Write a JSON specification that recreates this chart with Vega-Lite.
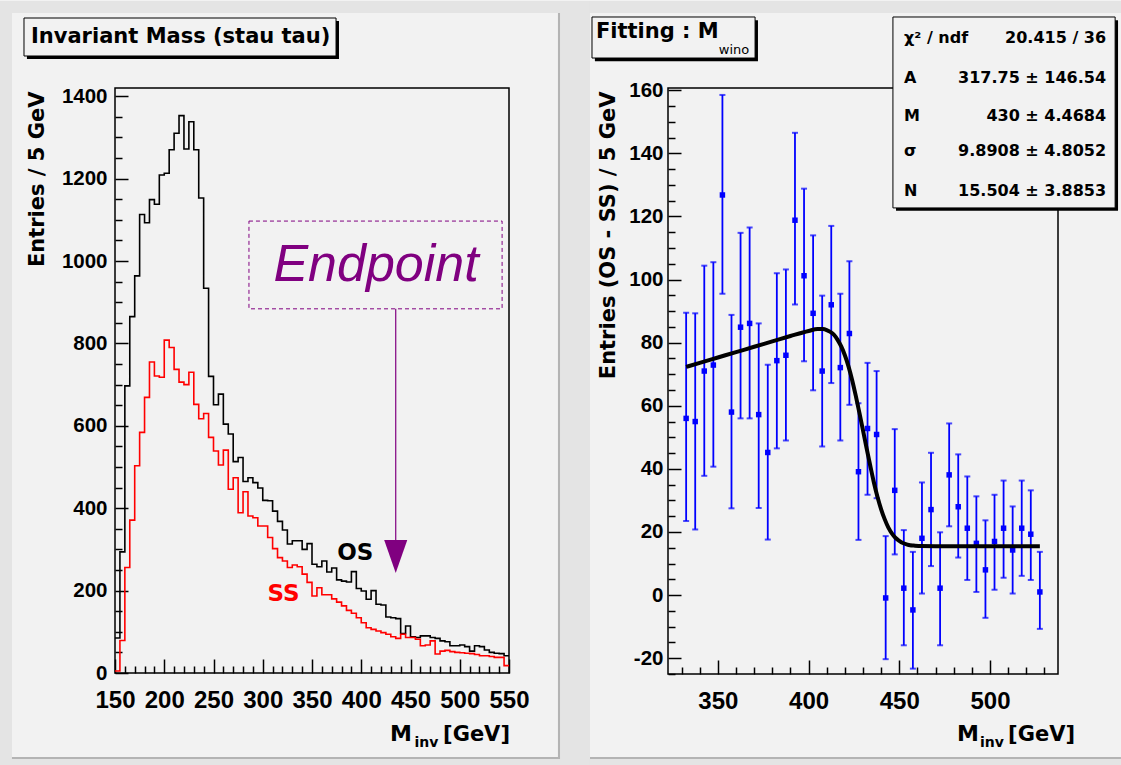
{
  "$schema": "https://vega.github.io/schema/vega-lite/v6.json",
  "background": "#f2f2f2",
  "padding": 0,
  "spacing": 0,
  "config": {"view": {"stroke": null}, "font": "Liberation Sans"},
  "datasets": {
    "hist": [
      {"m":150,"os":85,"ss":5},{"m":155,"os":294,"ss":79},{"m":160,"os":697,"ss":256},{"m":165,"os":865,"ss":371},{"m":170,"os":964,"ss":503},
      {"m":175,"os":1113,"ss":584},{"m":180,"os":1093,"ss":669},{"m":185,"os":1149,"ss":755},{"m":190,"os":1138,"ss":721},{"m":195,"os":1209,"ss":718},
      {"m":200,"os":1213,"ss":808},{"m":205,"os":1270,"ss":790},{"m":210,"os":1310,"ss":737},{"m":215,"os":1353,"ss":706},{"m":220,"os":1272,"ss":700},
      {"m":225,"os":1338,"ss":730},{"m":230,"os":1270,"ss":652},{"m":235,"os":1153,"ss":617},{"m":240,"os":934,"ss":630},{"m":245,"os":720,"ss":572},
      {"m":250,"os":651,"ss":539},{"m":255,"os":677,"ss":505},{"m":260,"os":604,"ss":541},{"m":265,"os":580,"ss":446},{"m":270,"os":513,"ss":474},
      {"m":275,"os":523,"ss":389},{"m":280,"os":465,"ss":440},{"m":285,"os":474,"ss":381},{"m":290,"os":462,"ss":377},{"m":295,"os":449,"ss":357},
      {"m":300,"os":419,"ss":357},{"m":305,"os":418,"ss":329},{"m":310,"os":393,"ss":302},{"m":315,"os":368,"ss":280},{"m":320,"os":347,"ss":272},
      {"m":325,"os":313,"ss":256},{"m":330,"os":321,"ss":262},{"m":335,"os":321,"ss":258},{"m":340,"os":300,"ss":240},{"m":345,"os":314,"ss":220},
      {"m":350,"os":264,"ss":187},{"m":355,"os":258,"ss":207},{"m":360,"os":272,"ss":190},{"m":365,"os":245,"ss":190},{"m":370,"os":255,"ss":180},
      {"m":375,"os":226,"ss":172},{"m":380,"os":223,"ss":163},{"m":385,"os":221,"ss":152},{"m":390,"os":246,"ss":145},{"m":395,"os":205,"ss":134},
      {"m":400,"os":199,"ss":122},{"m":405,"os":179,"ss":110},{"m":410,"os":200,"ss":106},{"m":415,"os":167,"ss":102},{"m":420,"os":165,"ss":98},
      {"m":425,"os":136,"ss":94},{"m":430,"os":134,"ss":88},{"m":435,"os":132,"ss":84},{"m":440,"os":96,"ss":94},{"m":445,"os":114,"ss":86},
      {"m":450,"os":88,"ss":86},{"m":455,"os":86,"ss":82},{"m":460,"os":90,"ss":66},{"m":465,"os":90,"ss":68},{"m":470,"os":86,"ss":78},
      {"m":475,"os":84,"ss":46},{"m":480,"os":78,"ss":53},{"m":485,"os":76,"ss":55},{"m":490,"os":66,"ss":52},{"m":495,"os":66,"ss":50},
      {"m":500,"os":68,"ss":49},{"m":505,"os":64,"ss":48},{"m":510,"os":53,"ss":47},{"m":515,"os":66,"ss":45},{"m":520,"os":64,"ss":42},
      {"m":525,"os":56,"ss":42},{"m":530,"os":50,"ss":40},{"m":535,"os":48,"ss":38},{"m":540,"os":47,"ss":38},{"m":545,"os":42,"ss":18},
      {"m":550,"os":42,"ss":18}
    ],
    "diff": [
      {"m":332.5,"y":56,"lo":23.5,"hi":89.5},{"m":337.5,"y":55,"lo":20.8,"hi":89.3},{"m":342.5,"y":71,"lo":37.8,"hi":104.4},
      {"m":347.5,"y":72.9,"lo":40.7,"hi":105.5},{"m":352.5,"y":126.8,"lo":95.5,"hi":158.5},{"m":357.5,"y":58,"lo":27.5,"hi":88.8},
      {"m":362.5,"y":84.9,"lo":56,"hi":114.8},{"m":367.5,"y":86.1,"lo":56,"hi":116.5},{"m":372.5,"y":57.2,"lo":27.6,"hi":86.1},
      {"m":377.5,"y":45.2,"lo":17.6,"hi":73},{"m":382.5,"y":74.3,"lo":46.5,"hi":102},{"m":387.5,"y":76,"lo":49,"hi":103.2},
      {"m":392.5,"y":118.8,"lo":92.1,"hi":146.5},{"m":397.5,"y":101.2,"lo":74.1,"hi":128.8},{"m":402.5,"y":89.3,"lo":64.9,"hi":114},
      {"m":407.5,"y":71,"lo":47.1,"hi":94.9},{"m":412.5,"y":92,"lo":67.2,"hi":117},{"m":417.5,"y":72.1,"lo":49,"hi":95.5},
      {"m":422.5,"y":82.9,"lo":60.3,"hi":105.8},{"m":427.5,"y":39.1,"lo":17.5,"hi":60.8},{"m":432.5,"y":52.8,"lo":31.8,"hi":73.6},
      {"m":437.5,"y":50.9,"lo":30.7,"hi":71},{"m":442.5,"y":-0.9,"lo":-20.3,"hi":18.7},{"m":447.5,"y":33.2,"lo":12.9,"hi":52.6},
      {"m":452.5,"y":2.2,"lo":-15.9,"hi":20.6},{"m":457.5,"y":-4.7,"lo":-23.3,"hi":13.7},{"m":462.5,"y":18,"lo":0.5,"hi":35.7},
      {"m":467.5,"y":27.1,"lo":9.2,"hi":45.1},{"m":472.5,"y":2.2,"lo":-15.9,"hi":19.9},{"m":477.5,"y":38.1,"lo":21.8,"hi":54.4},
      {"m":482.5,"y":28,"lo":11.9,"hi":44.6},{"m":487.5,"y":21.2,"lo":4.8,"hi":37.6},{"m":492.5,"y":16.4,"lo":1,"hi":31.3},
      {"m":497.5,"y":8,"lo":-7.2,"hi":23.7},{"m":502.5,"y":17,"lo":1.7,"hi":31.8},{"m":507.5,"y":21.2,"lo":5.5,"hi":36.3},
      {"m":512.5,"y":14.3,"lo":0.5,"hi":28.1},{"m":517.5,"y":21.2,"lo":6.1,"hi":36.3},{"m":522.5,"y":19.3,"lo":4.8,"hi":33.2},
      {"m":527.5,"y":1,"lo":-10.7,"hi":13.7}
    ],
    "fit": [
      {"m":332.5,"f":72.3},{"m":340,"f":73.6},{"m":350,"f":75.3},{"m":360,"f":77.0},{"m":370,"f":78.7},{"m":380,"f":80.4},
      {"m":390,"f":82.1},{"m":400,"f":83.7},{"m":405,"f":84.3},{"m":408,"f":84.3},{"m":410,"f":84.0},{"m":412,"f":83.4},
      {"m":414,"f":82.5},{"m":416,"f":80.9},{"m":418,"f":78.8},{"m":420,"f":76.0},{"m":422,"f":72.5},{"m":424,"f":68.2},
      {"m":426,"f":63.2},{"m":428,"f":57.8},{"m":430,"f":52.2},{"m":432,"f":46.5},{"m":434,"f":41.0},{"m":436,"f":35.7},
      {"m":438,"f":31.1},{"m":440,"f":27.2},{"m":442,"f":24.0},{"m":444,"f":21.4},{"m":446,"f":19.5},{"m":448,"f":18.1},
      {"m":450,"f":17.2},{"m":452,"f":16.5},{"m":454,"f":16.1},{"m":456,"f":15.8},{"m":458,"f":15.7},{"m":462,"f":15.55},
      {"m":470,"f":15.5},{"m":527.5,"f":15.5}
    ]
  },
  "hconcat": [
    {
      "width": 394,
      "height": 585,
      "resolve": {"axis": {"x": "independent", "y": "independent"}},
      "layer": [
        {
          "data": {"values": [
            {"x1": 33.25, "x2": 45.4, "y1": 1631.2, "y2": -225.8},
            {"x1": 33.25, "x2": 632.2, "y1": 1631.2, "y2": 1602.1},
            {"x1": 601.8, "x2": 632.2, "y1": 1631.2, "y2": -225.8},
            {"x1": 33.25, "x2": 632.2, "y1": -208.8, "y2": -225.8}
          ]},
          "mark": {"type": "rect", "fill": "#e4e4e4", "stroke": null},
          "encoding": {
            "x": {"field": "x1", "type": "quantitative", "scale": {"domain": [150, 550]}, "axis": null},
            "x2": {"field": "x2"},
            "y": {"field": "y1", "type": "quantitative", "scale": {"domain": [0, 1420]}, "axis": null},
            "y2": {"field": "y2"}
          }
        },
        {
          "data": {"values": [
            {"x1": 599.7, "x2": 601.8, "y1": 1602.1, "y2": -208.8},
            {"x1": 45.4, "x2": 601.8, "y1": -203.9, "y2": -208.8}
          ]},
          "mark": {"type": "rect", "fill": "#b4b4b4", "stroke": null},
          "encoding": {
            "x": {"field": "x1", "type": "quantitative", "scale": {"domain": [150, 550]}, "axis": null},
            "x2": {"field": "x2"},
            "y": {"field": "y1", "type": "quantitative", "scale": {"domain": [0, 1420]}, "axis": null},
            "y2": {"field": "y2"}
          }
        },
        {
          "data": {"values": [{"x1": 150, "x2": 550, "y1": 0, "y2": 1420}]},
          "mark": {"type": "rect", "fill": null, "stroke": "black", "strokeWidth": 1.5},
          "encoding": {
            "x": {"field": "x1", "type": "quantitative", "scale": {"domain": [150, 550]}, "axis": null},
            "x2": {"field": "x2"},
            "y": {"field": "y1", "type": "quantitative", "scale": {"domain": [0, 1420]}, "axis": null},
            "y2": {"field": "y2"}
          }
        },
        {
          "data": {"name": "hist"},
          "mark": {"type": "line", "interpolate": "step-after", "color": "black", "strokeWidth": 1.6},
          "encoding": {
            "x": {
              "field": "m", "type": "quantitative", "scale": {"domain": [150, 550]},
              "axis": {
                "orient": "bottom",
                "values": [150,200,250,300,350,400,450,500,550],
                "format": "d",
                "tickSize": -14,
                "labelPadding": 29, "tickColor": "black", "tickWidth": 1.5, "domain": false, "grid": false,
                "labelFont": "Liberation Sans", "labelFontWeight": "bold", "labelFontSize": 24, "labelColor": "black",
                "labelFlush": false, "labelOverlap": false, "title": null
              }
            },
            "y": {
              "field": "os", "type": "quantitative", "scale": {"domain": [0, 1420]},
              "axis": {
                "orient": "left",
                "values": [0,200,400,600,800,1000,1200,1400],
                "format": "d",
                "tickSize": -13,
                "labelPadding": 21, "tickColor": "black", "tickWidth": 1.5, "domain": false, "grid": false,
                "labelFont": "Liberation Sans", "labelFontWeight": "bold", "labelFontSize": 20.5, "labelColor": "black",
                "labelFlush": false, "labelOverlap": false,
                "title": "Entries / 5 GeV", "titleFont": "DejaVu Sans", "titleFontSize": 21, "titleFontWeight": "bold",
                "titleColor": "black", "titleAngle": 270, "titleAlign": "right", "titleBaseline": "middle",
                "titleX": -78, "titleY": 3
              }
            }
          }
        },
        {
          "data": {"name": "hist"},
          "mark": {"type": "line", "interpolate": "step-after", "color": "#ff0000", "strokeWidth": 1.6},
          "encoding": {
            "x": {
              "field": "m", "type": "quantitative", "scale": {"domain": [150, 550]},
              "axis": {
                "orient": "bottom",
                "values": [160,170,180,190,210,220,230,240,260,270,280,290,310,320,330,340,360,370,380,390,410,420,430,440,460,470,480,490,510,520,530,540],
                "tickSize": -7, "labels": false, "tickColor": "black", "tickWidth": 1.5, "domain": false, "grid": false, "title": null
              }
            },
            "y": {
              "field": "ss", "type": "quantitative", "scale": {"domain": [0, 1420]},
              "axis": {
                "orient": "left",
                "values": [50,100,150,250,300,350,450,500,550,650,700,750,850,900,950,1050,1100,1150,1250,1300,1350],
                "tickSize": -7, "labels": false, "tickColor": "black", "tickWidth": 1.5, "domain": false, "grid": false, "title": null
              }
            }
          }
        },
        {
          "data": {"values": [{"x1": 286, "x2": 543, "y1": 1097, "y2": 884}]},
          "mark": {"type": "rect", "fill": null, "stroke": "#800080", "strokeWidth": 1, "strokeDash": [4, 3]},
          "encoding": {
            "x": {"field": "x1", "type": "quantitative", "scale": {"domain": [150, 550]}, "axis": null},
            "x2": {"field": "x2"},
            "y": {"field": "y1", "type": "quantitative", "scale": {"domain": [0, 1420]}, "axis": null},
            "y2": {"field": "y2"}
          }
        },
        {
          "data": {"values": [{"x": 415, "y": 990, "t": "Endpoint"}]},
          "mark": {"type": "text", "align": "center", "baseline": "middle", "font": "Liberation Sans", "fontStyle": "italic", "fontSize": 52, "color": "#800080"},
          "encoding": {
            "x": {"field": "x", "type": "quantitative", "scale": {"domain": [150, 550]}, "axis": null},
            "y": {"field": "y", "type": "quantitative", "scale": {"domain": [0, 1420]}, "axis": null},
            "text": {"field": "t"}
          }
        },
        {
          "data": {"values": [{"x": 435, "y1": 884, "y2": 322}]},
          "mark": {"type": "rule", "color": "#800080", "strokeWidth": 1.2},
          "encoding": {
            "x": {"field": "x", "type": "quantitative", "scale": {"domain": [150, 550]}, "axis": null},
            "y": {"field": "y1", "type": "quantitative", "scale": {"domain": [0, 1420]}, "axis": null},
            "y2": {"field": "y2"}
          }
        },
        {
          "data": {"values": [{"x": 435, "y": 283}]},
          "mark": {"type": "point", "shape": "M-0.7,-1L0.7,-1L0,1Z", "filled": true, "size": 1089, "color": "#800080", "opacity": 1},
          "encoding": {
            "x": {"field": "x", "type": "quantitative", "scale": {"domain": [150, 550]}, "axis": null},
            "y": {"field": "y", "type": "quantitative", "scale": {"domain": [0, 1420]}, "axis": null}
          }
        },
        {
          "data": {"values": [{"x": 394, "y": 292, "t": "OS"}, {"x": 321, "y": 192, "t": "SS"}]},
          "mark": {"type": "text", "align": "center", "baseline": "middle", "font": "DejaVu Sans", "fontWeight": "bold", "fontSize": 23},
          "encoding": {
            "x": {"field": "x", "type": "quantitative", "scale": {"domain": [150, 550]}, "axis": null},
            "y": {"field": "y", "type": "quantitative", "scale": {"domain": [0, 1420]}, "axis": null},
            "text": {"field": "t"},
            "color": {"field": "t", "type": "nominal", "scale": {"domain": ["OS", "SS"], "range": ["black", "#ff0000"]}, "legend": null}
          }
        },
        {
          "data": {"values": [{"x1": 60.6, "x2": 377.4, "y1": 1582.6, "y2": 1490.4}]},
          "mark": {"type": "rect", "fill": "black", "stroke": null},
          "encoding": {
            "x": {"field": "x1", "type": "quantitative", "scale": {"domain": [150, 550]}, "axis": null},
            "x2": {"field": "x2"},
            "y": {"field": "y1", "type": "quantitative", "scale": {"domain": [0, 1420]}, "axis": null},
            "y2": {"field": "y2"}
          }
        },
        {
          "data": {"values": [{"x1": 57.6, "x2": 374.4, "y1": 1589.9, "y2": 1497.7}]},
          "mark": {"type": "rect", "fill": "#f2f2f2", "stroke": "black", "strokeWidth": 1},
          "encoding": {
            "x": {"field": "x1", "type": "quantitative", "scale": {"domain": [150, 550]}, "axis": null},
            "x2": {"field": "x2"},
            "y": {"field": "y1", "type": "quantitative", "scale": {"domain": [0, 1420]}, "axis": null},
            "y2": {"field": "y2"}
          }
        },
        {
          "data": {"values": [{"x": 64.7, "y": 1543.8, "t": "Invariant Mass (stau tau)"}]},
          "mark": {"type": "text", "align": "left", "baseline": "middle", "font": "DejaVu Sans", "fontWeight": "bold", "fontSize": 21, "color": "black"},
          "encoding": {
            "x": {"field": "x", "type": "quantitative", "scale": {"domain": [150, 550]}, "axis": null},
            "y": {"field": "y", "type": "quantitative", "scale": {"domain": [0, 1420]}, "axis": null},
            "text": {"field": "t"}
          }
        },
        {
          "data": {"values": [{"x": 429.2, "y": -165, "t": "M"}]},
          "mark": {"type": "text", "align": "left", "baseline": "alphabetic", "font": "DejaVu Sans", "fontWeight": "bold", "fontSize": 22, "color": "black"},
          "encoding": {
            "x": {"field": "x", "type": "quantitative", "scale": {"domain": [150, 550]}, "axis": null},
            "y": {"field": "y", "type": "quantitative", "scale": {"domain": [0, 1420]}, "axis": null},
            "text": {"field": "t"}
          }
        },
        {
          "data": {"values": [{"x": 551, "y": -165, "t": "[GeV]"}]},
          "mark": {"type": "text", "align": "right", "baseline": "alphabetic", "font": "DejaVu Sans", "fontWeight": "bold", "fontSize": 21, "color": "black"},
          "encoding": {
            "x": {"field": "x", "type": "quantitative", "scale": {"domain": [150, 550]}, "axis": null},
            "y": {"field": "y", "type": "quantitative", "scale": {"domain": [0, 1420]}, "axis": null},
            "text": {"field": "t"}
          }
        },
        {
          "data": {"values": [{"x": 454, "y": -180, "t": "inv"}]},
          "mark": {"type": "text", "align": "left", "baseline": "alphabetic", "font": "DejaVu Sans", "fontWeight": "bold", "fontSize": 14, "color": "black"},
          "encoding": {
            "x": {"field": "x", "type": "quantitative", "scale": {"domain": [150, 550]}, "axis": null},
            "y": {"field": "y", "type": "quantitative", "scale": {"domain": [0, 1420]}, "axis": null},
            "text": {"field": "t"}
          }
        }
      ]
    },
    {
      "width": 390,
      "height": 586,
      "resolve": {"axis": {"x": "independent", "y": "independent"}},
      "layer": [
        {
          "data": {"values": [
            {"x1": 279.5, "x2": 572.2, "y1": 188.3, "y2": 184.5},
            {"x1": 279.5, "x2": 572.2, "y1": -51.9, "y2": -54.2}
          ]},
          "mark": {"type": "rect", "fill": "#e4e4e4", "stroke": null},
          "encoding": {
            "x": {"field": "x1", "type": "quantitative", "scale": {"domain": [322.5, 537.5]}, "axis": null},
            "x2": {"field": "x2"},
            "y": {"field": "y1", "type": "quantitative", "scale": {"domain": [-25, 160.7]}, "axis": null},
            "y2": {"field": "y2"}
          }
        },
        {
          "data": {"values": [{"x1": 279.5, "x2": 572.2, "y1": -51.3, "y2": -51.9}]},
          "mark": {"type": "rect", "fill": "#b4b4b4", "stroke": null},
          "encoding": {
            "x": {"field": "x1", "type": "quantitative", "scale": {"domain": [322.5, 537.5]}, "axis": null},
            "x2": {"field": "x2"},
            "y": {"field": "y1", "type": "quantitative", "scale": {"domain": [-25, 160.7]}, "axis": null},
            "y2": {"field": "y2"}
          }
        },
        {
          "data": {"values": [{"x1": 322.5, "x2": 537.5, "y1": -25, "y2": 160.7}]},
          "mark": {"type": "rect", "fill": null, "stroke": "black", "strokeWidth": 1.5},
          "encoding": {
            "x": {"field": "x1", "type": "quantitative", "scale": {"domain": [322.5, 537.5]}, "axis": null},
            "x2": {"field": "x2"},
            "y": {"field": "y1", "type": "quantitative", "scale": {"domain": [-25, 160.7]}, "axis": null},
            "y2": {"field": "y2"}
          }
        },
        {
          "data": {"name": "diff"},
          "mark": {"type": "rule", "color": "#0000ff", "strokeWidth": 1.8},
          "encoding": {
            "x": {
              "field": "m", "type": "quantitative", "scale": {"domain": [322.5, 537.5]},
              "axis": {
                "orient": "bottom",
                "values": [350,400,450,500],
                "format": "d",
                "tickSize": -14,
                "labelPadding": 29, "tickColor": "black", "tickWidth": 1.5, "domain": false, "grid": false,
                "labelFont": "Liberation Sans", "labelFontWeight": "bold", "labelFontSize": 24, "labelColor": "black",
                "labelFlush": false, "labelOverlap": false, "title": null
              }
            },
            "y": {
              "field": "lo", "type": "quantitative", "scale": {"domain": [-25, 160.7]},
              "axis": {
                "orient": "left",
                "values": [-20,0,20,40,60,80,100,120,140,160],
                "labelExpr": "'' + datum.value",
                "tickSize": -13,
                "labelPadding": 18, "tickColor": "black", "tickWidth": 1.5, "domain": false, "grid": false,
                "labelFont": "Liberation Sans", "labelFontWeight": "bold", "labelFontSize": 20.5, "labelColor": "black",
                "labelFlush": false, "labelOverlap": false,
                "title": "Entries (OS - SS) / 5 GeV", "titleFont": "DejaVu Sans", "titleFontSize": 21, "titleFontWeight": "bold",
                "titleColor": "black", "titleAngle": 270, "titleAlign": "right", "titleBaseline": "middle",
                "titleX": -60, "titleY": 3
              }
            },
            "y2": {"field": "hi"}
          }
        },
        {
          "data": {"name": "diff"},
          "mark": {"type": "tick", "orient": "horizontal", "color": "#0000ff", "size": 6, "thickness": 2},
          "encoding": {
            "x": {
              "field": "m", "type": "quantitative", "scale": {"domain": [322.5, 537.5]},
              "axis": {
                "orient": "bottom",
                "values": [330,340,360,370,380,390,410,420,430,440,460,470,480,490,510,520,530],
                "tickSize": -7, "labels": false, "tickColor": "black", "tickWidth": 1.5, "domain": false, "grid": false, "title": null
              }
            },
            "y": {
              "field": "lo", "type": "quantitative", "scale": {"domain": [-25, 160.7]},
              "axis": {
                "orient": "left",
                "values": [-25,-15,-10,-5,5,10,15,25,30,35,45,50,55,65,70,75,85,90,95,105,110,115,125,130,135,145,150,155],
                "tickSize": -7, "labels": false, "tickColor": "black", "tickWidth": 1.5, "domain": false, "grid": false, "title": null
              }
            }
          }
        },
        {
          "data": {"name": "diff"},
          "mark": {"type": "tick", "orient": "horizontal", "color": "#0000ff", "size": 6, "thickness": 2},
          "encoding": {
            "x": {"field": "m", "type": "quantitative", "scale": {"domain": [322.5, 537.5]}, "axis": null},
            "y": {"field": "hi", "type": "quantitative", "scale": {"domain": [-25, 160.7]}, "axis": null}
          }
        },
        {
          "data": {"name": "diff"},
          "mark": {"type": "square", "color": "#0000ff", "size": 30, "opacity": 1},
          "encoding": {
            "x": {"field": "m", "type": "quantitative", "scale": {"domain": [322.5, 537.5]}, "axis": null},
            "y": {"field": "y", "type": "quantitative", "scale": {"domain": [-25, 160.7]}, "axis": null}
          }
        },
        {
          "data": {"name": "fit"},
          "mark": {"type": "line", "color": "black", "strokeWidth": 4, "interpolate": "monotone"},
          "encoding": {
            "x": {"field": "m", "type": "quantitative", "scale": {"domain": [322.5, 537.5]}, "axis": null},
            "y": {"field": "f", "type": "quantitative", "scale": {"domain": [-25, 160.7]}, "axis": null}
          }
        },
        {
          "data": {"values": [{"x1": 448.2, "x2": 570.6, "y1": 182.2, "y2": 121.8}]},
          "mark": {"type": "rect", "fill": "black", "stroke": null},
          "encoding": {
            "x": {"field": "x1", "type": "quantitative", "scale": {"domain": [322.5, 537.5]}, "axis": null},
            "x2": {"field": "x2"},
            "y": {"field": "y1", "type": "quantitative", "scale": {"domain": [-25, 160.7]}, "axis": null},
            "y2": {"field": "y2"}
          }
        },
        {
          "data": {"values": [{"x1": 446.5, "x2": 569, "y1": 183.2, "y2": 122.7}]},
          "mark": {"type": "rect", "fill": "#f2f2f2", "stroke": "black", "strokeWidth": 1},
          "encoding": {
            "x": {"field": "x1", "type": "quantitative", "scale": {"domain": [322.5, 537.5]}, "axis": null},
            "x2": {"field": "x2"},
            "y": {"field": "y1", "type": "quantitative", "scale": {"domain": [-25, 160.7]}, "axis": null},
            "y2": {"field": "y2"}
          }
        },
        {
          "data": {"values": [
            {"x": 452.6, "y": 176.5, "t": "χ² / ndf"},
            {"x": 452.6, "y": 163.9, "t": "A"},
            {"x": 452.6, "y": 151.8, "t": "M"},
            {"x": 452.6, "y": 140.7, "t": "σ"},
            {"x": 452.6, "y": 128.1, "t": "N"}
          ]},
          "mark": {"type": "text", "align": "left", "baseline": "middle", "font": "DejaVu Sans", "fontWeight": "bold", "fontSize": 16, "color": "black"},
          "encoding": {
            "x": {"field": "x", "type": "quantitative", "scale": {"domain": [322.5, 537.5]}, "axis": null},
            "y": {"field": "y", "type": "quantitative", "scale": {"domain": [-25, 160.7]}, "axis": null},
            "text": {"field": "t"}
          }
        },
        {
          "data": {"values": [
            {"x": 564, "y": 176.5, "t": "20.415 / 36"},
            {"x": 564, "y": 163.9, "t": "317.75 ± 146.54"},
            {"x": 564, "y": 151.8, "t": "430 ± 4.4684"},
            {"x": 564, "y": 140.7, "t": "9.8908 ± 4.8052"},
            {"x": 564, "y": 128.1, "t": "15.504 ± 3.8853"}
          ]},
          "mark": {"type": "text", "align": "right", "baseline": "middle", "font": "DejaVu Sans", "fontWeight": "bold", "fontSize": 16, "color": "black"},
          "encoding": {
            "x": {"field": "x", "type": "quantitative", "scale": {"domain": [322.5, 537.5]}, "axis": null},
            "y": {"field": "y", "type": "quantitative", "scale": {"domain": [-25, 160.7]}, "axis": null},
            "text": {"field": "t"}
          }
        },
        {
          "data": {"values": [{"x1": 282.2, "x2": 372.1, "y1": 182.2, "y2": 169.2}]},
          "mark": {"type": "rect", "fill": "black", "stroke": null},
          "encoding": {
            "x": {"field": "x1", "type": "quantitative", "scale": {"domain": [322.5, 537.5]}, "axis": null},
            "x2": {"field": "x2"},
            "y": {"field": "y1", "type": "quantitative", "scale": {"domain": [-25, 160.7]}, "axis": null},
            "y2": {"field": "y2"}
          }
        },
        {
          "data": {"values": [{"x1": 280.6, "x2": 370.5, "y1": 183.2, "y2": 170.2}]},
          "mark": {"type": "rect", "fill": "#f2f2f2", "stroke": "black", "strokeWidth": 1},
          "encoding": {
            "x": {"field": "x1", "type": "quantitative", "scale": {"domain": [322.5, 537.5]}, "axis": null},
            "x2": {"field": "x2"},
            "y": {"field": "y1", "type": "quantitative", "scale": {"domain": [-25, 160.7]}, "axis": null},
            "y2": {"field": "y2"}
          }
        },
        {
          "data": {"values": [{"x": 282.8, "y": 178.3, "t": "Fitting : M"}]},
          "mark": {"type": "text", "align": "left", "baseline": "middle", "font": "DejaVu Sans", "fontWeight": "bold", "fontSize": 21, "color": "black"},
          "encoding": {
            "x": {"field": "x", "type": "quantitative", "scale": {"domain": [322.5, 537.5]}, "axis": null},
            "y": {"field": "y", "type": "quantitative", "scale": {"domain": [-25, 160.7]}, "axis": null},
            "text": {"field": "t"}
          }
        },
        {
          "data": {"values": [{"x": 350.5, "y": 172.9, "t": "wino"}]},
          "mark": {"type": "text", "align": "left", "baseline": "middle", "font": "DejaVu Sans", "fontSize": 13, "color": "black"},
          "encoding": {
            "x": {"field": "x", "type": "quantitative", "scale": {"domain": [322.5, 537.5]}, "axis": null},
            "y": {"field": "y", "type": "quantitative", "scale": {"domain": [-25, 160.7]}, "axis": null},
            "text": {"field": "t"}
          }
        },
        {
          "data": {"values": [{"x": 481.8, "y": -46.2, "t": "M"}]},
          "mark": {"type": "text", "align": "left", "baseline": "alphabetic", "font": "DejaVu Sans", "fontWeight": "bold", "fontSize": 22, "color": "black"},
          "encoding": {
            "x": {"field": "x", "type": "quantitative", "scale": {"domain": [322.5, 537.5]}, "axis": null},
            "y": {"field": "y", "type": "quantitative", "scale": {"domain": [-25, 160.7]}, "axis": null},
            "text": {"field": "t"}
          }
        },
        {
          "data": {"values": [{"x": 546.9, "y": -46.2, "t": "[GeV]"}]},
          "mark": {"type": "text", "align": "right", "baseline": "alphabetic", "font": "DejaVu Sans", "fontWeight": "bold", "fontSize": 21, "color": "black"},
          "encoding": {
            "x": {"field": "x", "type": "quantitative", "scale": {"domain": [322.5, 537.5]}, "axis": null},
            "y": {"field": "y", "type": "quantitative", "scale": {"domain": [-25, 160.7]}, "axis": null},
            "text": {"field": "t"}
          }
        },
        {
          "data": {"values": [{"x": 494.5, "y": -48.1, "t": "inv"}]},
          "mark": {"type": "text", "align": "left", "baseline": "alphabetic", "font": "DejaVu Sans", "fontWeight": "bold", "fontSize": 14, "color": "black"},
          "encoding": {
            "x": {"field": "x", "type": "quantitative", "scale": {"domain": [322.5, 537.5]}, "axis": null},
            "y": {"field": "y", "type": "quantitative", "scale": {"domain": [-25, 160.7]}, "axis": null},
            "text": {"field": "t"}
          }
        }
      ]
    }
  ]
}
